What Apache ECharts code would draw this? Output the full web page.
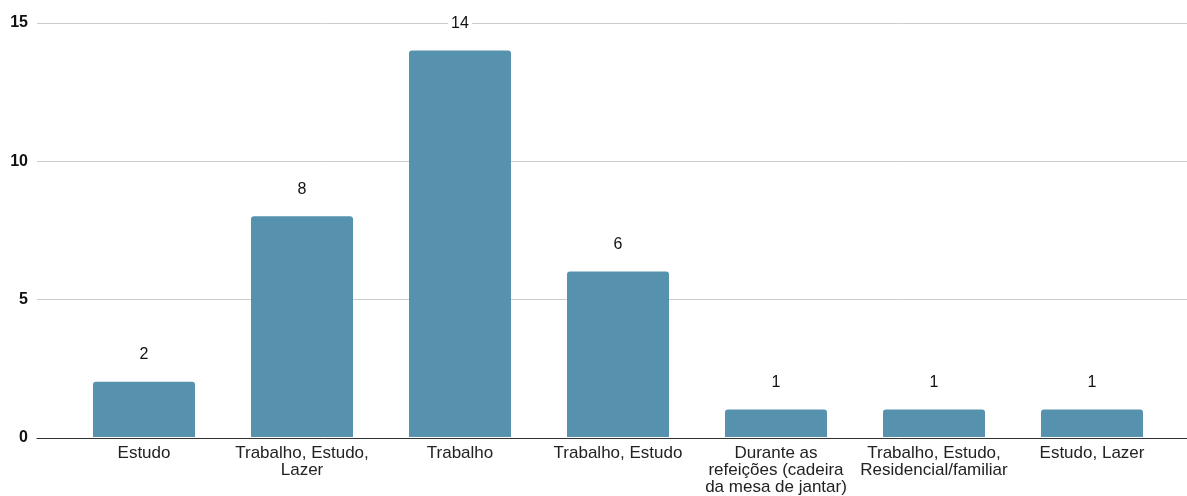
<!DOCTYPE html>
<html>
<head>
<meta charset="utf-8">
<script src="https://cdn.jsdelivr.net/npm/echarts@6/dist/echarts.min.js"></script>
<style>
  html, body { margin: 0; padding: 0; background: #fff; }
  #chart { width: 1187px; height: 496px; }
</style>
</head>
<body>
<div id="chart"></div>
<script>
// Categories (line breaks as shown under the bars)
const categories = [
  'Estudo',
  'Trabalho, Estudo,\nLazer',
  'Trabalho',
  'Trabalho, Estudo',
  'Durante as\nrefeições (cadeira\nda mesa de jantar)',
  'Trabalho, Estudo,\nResidencial/familiar',
  'Estudo, Lazer'
];
// Number of responses per category
const counts = [2, 8, 14, 6, 1, 1, 1];
// Value axis ticks
const yMin = 0;
const yMax = 15;
const yStep = 5;

const TOP = 23;
const BOTTOM = 58;
const textFont = '"Liberation Sans", Arial, sans-serif';

const chart = echarts.init(document.getElementById('chart'), null, { renderer: 'canvas' });

chart.setOption({
  backgroundColor: '#fff',
  animation: false,
  grid: [
    // full-width frame: value axis, gridlines and baseline
    { left: 37, right: 0, top: TOP, bottom: BOTTOM },
    // bars and category labels
    { left: 65, right: 16, top: TOP, bottom: BOTTOM }
  ],
  xAxis: [
    {
      type: 'category', gridIndex: 0, data: [''],
      axisLine: { show: true, lineStyle: { color: '#333', width: 1 } },
      axisTick: { show: false }, axisLabel: { show: false }, splitLine: { show: false }
    },
    {
      type: 'category', gridIndex: 1, data: categories,
      axisLine: { show: false }, axisTick: { show: false },
      axisLabel: {
        interval: 0, margin: 8, color: '#222', fontSize: 17, lineHeight: 17,
        fontFamily: textFont
      }
    }
  ],
  yAxis: [
    {
      type: 'value', gridIndex: 0, min: yMin, max: yMax, interval: yStep,
      axisLine: { show: false }, axisTick: { show: false },
      axisLabel: { color: '#111', fontSize: 16, fontWeight: 'bold', margin: 9, fontFamily: textFont },
      splitLine: { lineStyle: { color: '#cccccc', width: 1 } }
    },
    {
      type: 'value', gridIndex: 1, min: yMin, max: yMax, interval: yStep,
      show: false
    }
  ],
  series: [{
    type: 'bar',
    xAxisIndex: 1, yAxisIndex: 1,
    data: counts,
    barWidth: 102,
    itemStyle: { color: '#5691ad', borderRadius: [3, 3, 0, 0] },
    label: {
      show: true, position: 'top', distance: 19,
      color: '#111', fontSize: 16, fontFamily: textFont,
      backgroundColor: '#fff', padding: [0, 3]
    }
  }]
});
</script>
</body>
</html>
